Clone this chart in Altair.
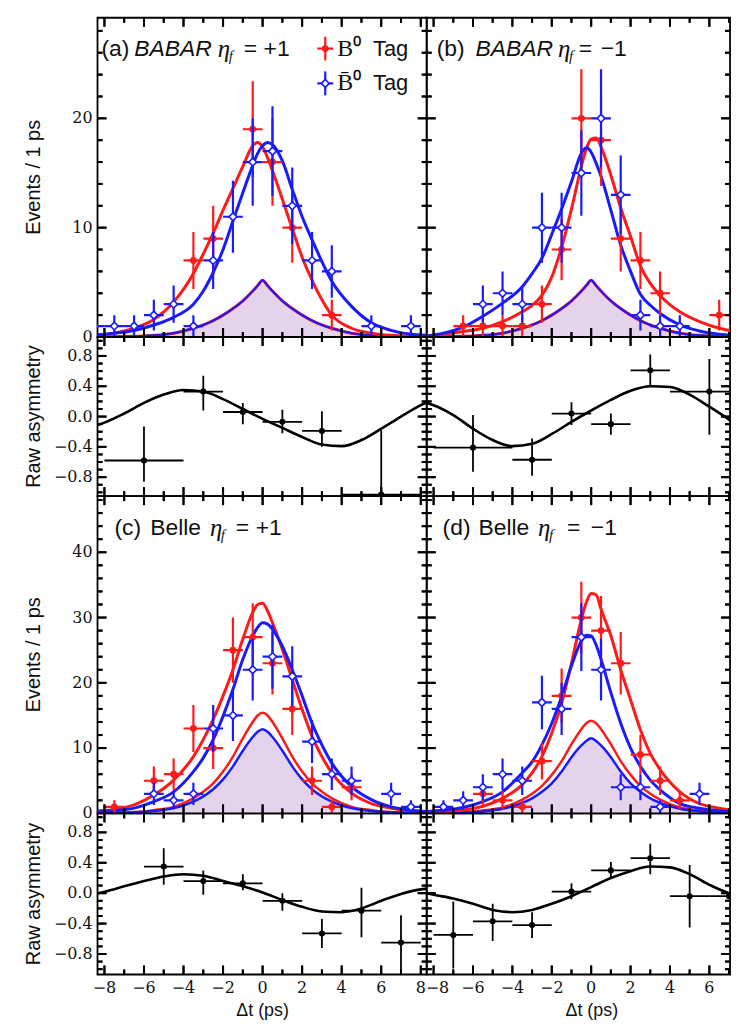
import altair as alt
import pandas as pd

RED = "#ff1a1a"
BLUE = "#1a1aff"
HATCH = "#e4d3ea"
INK = "#111111"

# ---------------- fit curves (events / 1 ps) ----------------
GX = [-8.35, -7.5, -6.5, -5.5, -4.5, -3.5, -3, -2.5, -2, -1.5, -1, -0.5, -0.25, 0,
      0.25, 0.5, 1, 1.5, 2, 2.5, 3, 3.5, 4.5, 5.5, 6.5, 7.5, 8.3]

A_RED_FIT = [0.15, 0.35, 0.8, 1.6, 3.2, 5.8, 7.6, 9.5, 11.6, 13.6, 15.6, 17.5, 17.8, 17.4,
             16.4, 15.2, 12.6, 9.9, 7.3, 5.2, 3.4, 2.0, 0.8, 0.35, 0.15, 0.08, 0.05]
A_BLUE_FIT = [0.2, 0.35, 0.6, 1.1, 1.8, 3.0, 4.2, 5.9, 8.0, 10.6, 13.2, 15.7, 16.8, 17.5,
              17.8, 17.6, 16.1, 13.5, 11.0, 8.9, 6.9, 5.1, 2.8, 1.3, 0.6, 0.25, 0.15]
A_BG_FIT = [0.02, 0.03, 0.07, 0.15, 0.35, 0.8, 1.1, 1.5, 2.0, 2.6, 3.3, 4.2, 4.7, 5.2,
            4.7, 4.2, 3.3, 2.6, 2.0, 1.5, 1.1, 0.8, 0.35, 0.15, 0.07, 0.03, 0.02]

B_RED_FIT = [0.1, 0.25, 0.5, 0.8, 1.4, 2.3, 2.9, 3.8, 5.5, 8.2, 11.7, 15.6, 17.2, 18.1,
             18.2, 17.4, 14.8, 11.8, 9.2, 6.5, 4.9, 3.8, 2.3, 1.4, 0.8, 0.45, 0.3]
B_BLUE_FIT = [0.1, 0.35, 0.9, 1.9, 3.1, 4.6, 5.8, 7.2, 9.4, 11.7, 14.2, 16.8, 17.3, 16.9,
              15.9, 14.7, 11.6, 8.4, 6.0, 3.9, 2.9, 2.15, 1.1, 0.55, 0.25, 0.12, 0.08]
B_BG_FIT = [0.02, 0.03, 0.07, 0.15, 0.35, 0.8, 1.1, 1.5, 2.0, 2.6, 3.3, 4.2, 4.7, 5.2,
            4.7, 4.2, 3.3, 2.6, 2.0, 1.5, 1.1, 0.8, 0.35, 0.15, 0.07, 0.03, 0.02]

C_RED_FIT = [0.4, 0.6, 1.3, 2.8, 5.1, 8.7, 11.3, 14.4, 18.0, 22.0, 26.7, 30.8, 32.0, 32.2,
             31.0, 29.2, 25.1, 20.5, 15.9, 11.8, 8.7, 6.2, 3.1, 1.5, 0.8, 0.4, 0.25]
C_BLUE_FIT = [0.25, 0.4, 0.8, 1.8, 3.3, 6.4, 8.5, 11.3, 14.9, 19.0, 23.6, 27.2, 28.5, 29.2,
              29.0, 28.2, 25.6, 22.0, 18.0, 13.8, 10.5, 7.7, 4.1, 2.1, 1.0, 0.5, 0.3]
C_BG_RED_FIT = [0.05, 0.1, 0.2, 0.5, 1.0, 2.3, 3.3, 4.6, 6.4, 8.7, 11.5, 14.0, 15.0, 15.4,
                15.0, 14.0, 11.5, 8.7, 6.4, 4.6, 3.3, 2.3, 1.0, 0.5, 0.2, 0.1, 0.05]
C_BG_BLUE_FIT = [0.04, 0.08, 0.15, 0.35, 0.8, 1.8, 2.6, 3.7, 5.2, 7.2, 9.6, 11.7, 12.5, 12.9,
                 12.5, 11.7, 9.6, 7.2, 5.2, 3.7, 2.6, 1.8, 0.8, 0.35, 0.15, 0.08, 0.04]

D_RED_FIT = [0.2, 0.25, 0.5, 1.1, 2.3, 4.4, 6.2, 8.7, 12.3, 16.9, 23.0, 29.7, 32.3, 33.7,
             33.5, 31.3, 27.2, 22.0, 17.4, 12.8, 9.2, 6.7, 3.3, 1.5, 0.8, 0.4, 0.25]
D_BLUE_FIT = [0.3, 0.5, 0.9, 1.8, 3.3, 6.2, 7.9, 10.5, 13.8, 17.9, 22.6, 26.4, 27.3, 27.2,
              25.8, 23.6, 18.5, 13.8, 10.0, 7.2, 5.1, 3.6, 1.5, 0.8, 0.4, 0.2, 0.15]
D_BG_RED_FIT = [0.05, 0.1, 0.2, 0.45, 0.9, 2.1, 3.0, 4.2, 5.9, 8.0, 10.6, 12.9, 13.8, 14.2,
                13.8, 12.9, 10.6, 8.0, 5.9, 4.2, 3.0, 2.1, 0.9, 0.45, 0.2, 0.1, 0.05]
D_BG_BLUE_FIT = [0.04, 0.08, 0.13, 0.3, 0.7, 1.6, 2.3, 3.3, 4.6, 6.4, 8.6, 10.4, 11.1, 11.5,
                 11.1, 10.4, 8.6, 6.4, 4.6, 3.3, 2.3, 1.6, 0.7, 0.3, 0.13, 0.08, 0.04]

# ---------------- binned events ----------------
A_RED_X = [-3.5, -2.5, -0.5, 0.5, 1.5, 3.5]
A_RED_Y = [7, 9, 19, 16, 10, 2]
A_RED_E = [2.6, 3.0, 4.4, 4.0, 3.2, 1.4]
A_BLUE_X = [-8.5, -7.5, -6.5, -5.5, -4.5, -3.5, -2.5, -1.5, -0.5, 0.5, 1.5, 2.5, 3.5, 5.5, 7.5]
A_BLUE_Y = [1, 1, 1, 2, 3, 1, 7, 11, 16, 17, 12, 7, 6, 1, 1]
A_BLUE_E = [1, 1, 1, 1.4, 1.7, 1, 2.6, 3.3, 4.0, 4.1, 3.5, 2.6, 2.4, 1, 1]

B_RED_X = [-6.5, -5.5, -4.5, -3.5, -2.5, -1.5, -0.5, 0.5, 1.5, 2.5, 3.5, 6.5, 7.5]
B_RED_Y = [1, 1, 1, 1, 3, 8, 20, 18, 9, 7, 4, 2, 1]
B_RED_E = [1, 1, 1, 1, 1.7, 2.8, 4.5, 4.2, 3.0, 2.6, 2.0, 1.4, 1]
B_BLUE_X = [-5.5, -4.5, -3.5, -2.5, -1.5, -0.5, 0.5, 1.5, 2.5, 3.5, 4.5]
B_BLUE_Y = [3, 4, 3, 10, 10, 15, 20, 13, 2, 1, 1]
B_BLUE_E = [1.7, 2.0, 1.7, 3.2, 3.2, 3.9, 4.5, 3.6, 1.4, 1, 1]

C_RED_X = [-7.5, -5.5, -4.5, -3.5, -2.5, -1.5, -0.5, 0.5, 1.5, 2.5, 3.5, 4.5]
C_RED_Y = [1, 5, 6, 13, 10, 25, 27, 23, 16, 5, 1, 4]
C_RED_E = [1, 2.2, 2.4, 3.6, 3.2, 5.0, 5.2, 4.8, 4.0, 2.2, 1, 2.0]
C_BLUE_X = [-5.5, -4.5, -3.5, -2.5, -1.5, -0.5, 0.5, 1.5, 2.5, 3.5, 4.5, 6.5, 7.5]
C_BLUE_Y = [3, 2, 3, 13, 15, 22, 24, 21, 11, 6, 5, 3, 1]
C_BLUE_E = [1.7, 1.4, 1.7, 3.6, 3.9, 4.7, 4.9, 4.6, 3.3, 2.4, 2.2, 1.7, 1]

D_RED_X = [-5.5, -4.5, -3.5, -2.5, -1.5, -0.5, 0.5, 1.5, 2.5, 3.5, 4.5]
D_RED_Y = [3, 2, 1, 8, 18, 30, 28, 23, 9, 5, 2]
D_RED_E = [1.7, 1.4, 1, 2.8, 4.2, 5.5, 5.3, 4.8, 3.0, 2.2, 1.4]
D_BLUE_X = [-7.5, -6.5, -5.5, -4.5, -3.5, -2.5, -1.5, -0.5, 0.5, 1.5, 2.5, 3.5, 5.5]
D_BLUE_Y = [1, 2, 4, 6, 5, 17, 16, 27, 22, 4, 4, 1, 3]
D_BLUE_E = [1, 1.4, 2.0, 2.4, 2.2, 4.1, 4.0, 5.2, 4.7, 2.0, 2.0, 1, 1.7]

# ---------------- raw asymmetry ----------------
AX_L = [-8.35, -8, -7, -6, -5, -4, -3, -2, -1, 0, 1, 2, 3, 4, 5, 6, 7, 8, 8.3]
AX_R = [-8.35, -8, -7, -6, -5, -4, -3, -2, -1, 0, 1, 2, 3, 4, 5, 6, 7, 7.7]
A_ASYM_FIT = [-0.11, -0.08, 0.04, 0.18, 0.29, 0.35, 0.33, 0.23, 0.10, -0.03, -0.15, -0.27,
              -0.37, -0.39, -0.31, -0.16, 0.0, 0.15, 0.19]
B_ASYM_FIT = [0.18, 0.15, 0.02, -0.16, -0.31, -0.39, -0.36, -0.23, -0.07, 0.08, 0.22, 0.34,
              0.40, 0.39, 0.29, 0.13, -0.04, -0.17]
C_ASYM_FIT = [0.0, 0.02, 0.09, 0.16, 0.22, 0.25, 0.23, 0.16, 0.09, 0.01, -0.09, -0.18,
              -0.24, -0.25, -0.20, -0.10, -0.01, 0.05, 0.06]
D_ASYM_FIT = [0.0, -0.02, -0.07, -0.14, -0.22, -0.25, -0.22, -0.14, -0.04, 0.08, 0.20, 0.29,
              0.35, 0.34, 0.25, 0.11, 0.0, -0.04]

A_AS_X = [-6, -3, -1, 1, 3, 6]
A_AS_W = [2, 1, 1, 1, 1, 2]
A_AS_Y = [-0.58, 0.33, 0.06, -0.07, -0.19, -1.03]
A_AS_LO = [-0.86, 0.08, -0.10, -0.22, -0.40, -1.30]
A_AS_HI = [-0.13, 0.54, 0.18, 0.09, 0.07, -0.18]

B_AS_X = [-6, -3, -1, 1, 3, 6]
B_AS_W = [2, 1, 1, 1, 1, 2]
B_AS_Y = [-0.41, -0.57, 0.04, -0.10, 0.61, 0.33]
B_AS_LO = [-0.73, -0.78, -0.11, -0.24, 0.40, -0.24]
B_AS_HI = [0.02, -0.29, 0.19, 0.04, 0.82, 0.76]

C_AS_X = [-5, -3, -1, 1, 3, 5, 7]
C_AS_W = [1, 1, 1, 1, 1, 1, 1]
C_AS_Y = [0.35, 0.16, 0.13, -0.10, -0.53, -0.23, -0.65]
C_AS_LO = [0.11, -0.02, 0.04, -0.23, -0.72, -0.58, -1.13]
C_AS_HI = [0.59, 0.30, 0.25, 0.0, -0.34, 0.07, -0.29]

D_AS_X = [-7, -5, -3, -1, 1, 3, 5, 7]
D_AS_W = [1, 1, 1, 1, 1, 1, 1, 1]
D_AS_Y = [-0.55, -0.37, -0.42, 0.02, 0.30, 0.46, -0.04, -0.04]
D_AS_LO = [-0.99, -0.63, -0.59, -0.08, 0.20, 0.25, -0.45, -0.07]
D_AS_HI = [-0.11, -0.14, -0.25, 0.13, 0.41, 0.65, 0.37, -0.01]

# ---------------- ticks and tick labels ----------------
XMAJ = [-8, -6, -4, -2, 0, 2, 4, 6, 8]
XMAJ_LAB = ["−8", "−6", "−4", "−2", "0", "2", "4", "6", "8"]
XMIN = [-7, -5, -3, -1, 1, 3, 5, 7]
YMAJ_EV_A = [0, 10, 20]
YLAB_EV_A = ["0", "10", "20"]
YMIN_EV_A = [2, 4, 6, 8, 12, 14, 16, 18, 22, 24, 26, 28]
YMAJ_EV_C = [0, 10, 20, 30, 40]
YLAB_EV_C = ["0", "10", "20", "30", "40"]
YMIN_EV_C = [2, 4, 6, 8, 12, 14, 16, 18, 22, 24, 26, 28, 32, 34, 36, 38, 42, 44, 46, 48]
YMAJ_AS = [-0.8, -0.4, 0.0, 0.4, 0.8]
YLAB_AS = ["−0.8", "−0.4", "0.0", "0.4", "0.8"]
YMIN_AS = [-1.0, -0.9, -0.7, -0.6, -0.5, -0.3, -0.2, -0.1, 0.1, 0.2, 0.3, 0.5, 0.6, 0.7,
           0.9, 1.0]

XDOM_L = [-8.35, 8.3]
XDOM_R = [-8.35, 7.05]
W_L, W_R = 331, 305
H_EV1, H_AS1, H_EV2, H_AS2 = 321, 160, 319, 162
YDOM_EV1 = [0, 29.2]
YDOM_EV2 = [0, 48.6]
YDOM_AS1 = [-1.05, 1.05]
YDOM_AS2 = [-1.07, 1.05]

ONE = pd.DataFrame({"k": [0]})
TICK_MAJ, TICK_MIN = 9, 5
TICK_W = 2
LABEL_FONT = "DejaVu Serif"
TITLE_FONT = "Liberation Sans"


def scales(xdom, ydom):
    return (alt.Scale(domain=xdom, nice=False, zero=False),
            alt.Scale(domain=ydom, nice=False, zero=False))


def tick_layers(xdom, ydom, w, h, ymaj, ymin):
    """Inward-pointing ticks on all four sides, placed through the panel's scales."""
    xsc, ysc = scales(xdom, ydom)
    upx = (ydom[1] - ydom[0]) / h
    xpx = (xdom[1] - xdom[0]) / w
    xmaj = [v for v in XMAJ if xdom[0] < v < xdom[1]]
    xmin = [v for v in XMIN if xdom[0] < v < xdom[1]]
    out = []
    for vals, ln in ((xmaj, TICK_MAJ), (xmin, TICK_MIN)):
        for base, sgn, ypos in ((ydom[0], 1, h - ln / 2), (ydom[1], -1, ln / 2)):
            df = pd.DataFrame({"t": vals})
            df["a"] = base
            df["b"] = base + sgn * ln * upx
            out.append(alt.Chart(df).mark_rule(color="#000000", strokeWidth=TICK_W).encode(
                x=alt.X("t:Q", scale=xsc, axis=None),
                y=alt.Y("a:Q", scale=ysc, axis=None), y2="b:Q"))
            out.append(alt.Chart(df).mark_tick(color="#000000", thickness=TICK_W, size=ln,
                                               opacity=1).encode(
                x=alt.X("t:Q", scale=xsc, axis=None), y=alt.value(ypos)))
    for vals, ln in ((ymaj, TICK_MAJ), (ymin, TICK_MIN)):
        vv = [v for v in vals if ydom[0] < v < ydom[1]]
        for base, sgn, xpos in ((xdom[0], 1, ln / 2), (xdom[1], -1, w - ln / 2)):
            df = pd.DataFrame({"t": vv})
            df["a"] = base
            df["b"] = base + sgn * ln * xpx
            out.append(alt.Chart(df).mark_rule(color="#000000", strokeWidth=TICK_W).encode(
                y=alt.Y("t:Q", scale=ysc, axis=None),
                x=alt.X("a:Q", scale=xsc, axis=None), x2="b:Q"))
            out.append(alt.Chart(df).mark_tick(color="#000000", thickness=TICK_W, size=ln,
                                               opacity=1).encode(
                y=alt.Y("t:Q", scale=ysc, axis=None), x=alt.value(xpos)))
    return out


def ylabel_layers(ydom, h, vals, labs, title):
    ysc = alt.Scale(domain=ydom, nice=False, zero=False)
    df = pd.DataFrame({"v": vals, "lab": labs})
    labels = alt.Chart(df).mark_text(font=LABEL_FONT, fontSize=16, color=INK, align="right",
                                     baseline="middle").encode(
        y=alt.Y("v:Q", scale=ysc, axis=None), x=alt.value(-5), text="lab:N")
    ttl = alt.Chart(ONE).mark_text(text=title, font=TITLE_FONT, fontSize=20, color=INK,
                                   angle=270, align="center", baseline="middle").encode(
        x=alt.value(-64), y=alt.value(h / 2))
    return [labels, ttl]


def xlabel_layers(xdom, h, right):
    xsc = alt.Scale(domain=xdom, nice=False, zero=False)
    pairs = [(v, s) for v, s in zip(XMAJ, XMAJ_LAB) if xdom[0] < v < xdom[1]]
    out = []
    if right:
        first = pd.DataFrame({"v": [pairs[0][0]], "lab": [pairs[0][1]]})
        out.append(alt.Chart(first).mark_text(font=LABEL_FONT, fontSize=16, color=INK,
                                              align="left", baseline="middle", dx=-8).encode(
            x=alt.X("v:Q", scale=xsc, axis=None), y=alt.value(h + 14), text="lab:N"))
        pairs = pairs[1:]
    df = pd.DataFrame({"v": [p[0] for p in pairs], "lab": [p[1] for p in pairs]})
    out.append(alt.Chart(df).mark_text(font=LABEL_FONT, fontSize=16, color=INK,
                                       align="center", baseline="middle").encode(
        x=alt.X("v:Q", scale=xsc, axis=None), y=alt.value(h + 14), text="lab:N"))
    out.append(alt.Chart(ONE).mark_text(text="Δt (ps)", font=TITLE_FONT, fontSize=18,
                                        color=INK, align="center",
                                        baseline="middle").encode(
        x=alt.value(166), y=alt.value(h + 37)))
    return out


def fit_line(xs, ys, color, width, xsc, ysc):
    df = pd.DataFrame({"x": xs, "y": ys})
    return alt.Chart(df).mark_line(color=color, strokeWidth=width, interpolate="monotone",
                                   clip=True).encode(
        x=alt.X("x:Q", scale=xsc, axis=None), y=alt.Y("y:Q", scale=ysc, axis=None))


def fit_area(xs, ys, xsc, ysc):
    df = pd.DataFrame({"x": xs, "y": ys})
    return alt.Chart(df).mark_area(color=HATCH, opacity=1, interpolate="monotone",
                                   clip=True).encode(
        x=alt.X("x:Q", scale=xsc, axis=None), y=alt.Y("y:Q", scale=ysc, axis=None))


def points(xs, ys, lo, hi, half, xsc, ysc, color, kind, ew):
    df = pd.DataFrame({"x": xs, "y": ys, "lo": lo, "hi": hi})
    df["xl"] = [a - b for a, b in zip(xs, half)]
    df["xh"] = [a + b for a, b in zip(xs, half)]
    base = alt.Chart(df)
    v = base.mark_rule(color=color, strokeWidth=ew, clip=True).encode(
        x=alt.X("x:Q", scale=xsc, axis=None),
        y=alt.Y("lo:Q", scale=ysc, axis=None), y2="hi:Q")
    hz = base.mark_rule(color=color, strokeWidth=ew, clip=True).encode(
        x=alt.X("xl:Q", scale=xsc, axis=None), x2="xh:Q",
        y=alt.Y("y:Q", scale=ysc, axis=None))
    if kind == "circle":
        m = base.mark_point(shape="circle", filled=True, color=color, size=48, opacity=1,
                            clip=True)
    elif kind == "dot":
        m = base.mark_point(shape="circle", filled=True, color=color, size=38, opacity=1,
                            clip=True)
    else:
        m = base.mark_point(shape="diamond", filled=True, fill="white", stroke=color,
                            strokeWidth=1.6, size=62, opacity=1, clip=True)
    m = m.encode(x=alt.X("x:Q", scale=xsc, axis=None), y=alt.Y("y:Q", scale=ysc, axis=None))
    return [v, hz, m]


def ev_points(xs, ys, es, xsc, ysc, color, kind):
    lo = [a - b for a, b in zip(ys, es)]
    hi = [a + b for a, b in zip(ys, es)]
    return points(xs, ys, lo, hi, [0.5] * len(xs), xsc, ysc, color, kind, 2.2)


def txt(s, x, y, size=23, font="Liberation Sans", style="normal", color=INK):
    return alt.Chart(ONE).mark_text(text=s, font=font, fontSize=size, fontStyle=style,
                                    align="left", baseline="middle", color=color).encode(
        x=alt.value(x), y=alt.value(y))


def label(tag, name, italic, sign, xs, y):
    x0, x1, x2, x3, x4 = xs
    return [txt(tag, x0, y),
            txt(name, x1, y, style="italic" if italic else "normal"),
            txt("η", x2, y, font="Liberation Serif", style="italic", size=25),
            txt("f", x2 + 11, y + 7, font="Liberation Serif", style="italic", size=15),
            txt("=", x3, y),
            txt(sign, x4, y)]


def legend_item(x, y, color, kind, label_b):
    v = alt.Chart(ONE).mark_rule(color=color, strokeWidth=2.2).encode(
        x=alt.value(x), y=alt.value(y - 12), y2=alt.value(y + 12))
    hz = alt.Chart(ONE).mark_rule(color=color, strokeWidth=2.2).encode(
        x=alt.value(x - 8), x2=alt.value(x + 8), y=alt.value(y))
    if kind == "circle":
        m = alt.Chart(ONE).mark_point(shape="circle", filled=True, color=color, size=48,
                                      opacity=1)
    else:
        m = alt.Chart(ONE).mark_point(shape="diamond", filled=True, fill="white",
                                      stroke=color, strokeWidth=1.6, size=62, opacity=1)
    m = m.encode(x=alt.value(x), y=alt.value(y))
    return [v, hz, m,
            txt(label_b, x + 12, y, font="Liberation Serif", size=24),
            txt("Tag", x + 48, y, size=22)]


def spacer():
    # invisible anchor that reserves the left margin used by the axis titles
    return alt.Chart(ONE).mark_point(opacity=0, size=1).encode(
        x=alt.value(-83), y=alt.value(0))


def events_panel(w, xdom, h, ydom, ymaj, ylab, ymin, left, fits, bgs, red, blue, extra):
    xsc, ysc = scales(xdom, ydom)
    layers = [fit_area(GX, bgs[-1][1], xsc, ysc)]
    for color, ys, wdt in bgs:
        layers.append(fit_line(GX, ys, color, wdt, xsc, ysc))
    layers.append(fit_line(GX, fits[0], RED, 3, xsc, ysc))
    layers.append(fit_line(GX, fits[1], BLUE, 3, xsc, ysc))
    layers += ev_points(*red, xsc, ysc, RED, "circle")
    layers += ev_points(*blue, xsc, ysc, BLUE, "diamond")
    layers += extra
    if left:
        layers += ylabel_layers(ydom, h, ymaj, ylab, "Events / 1 ps")
        layers.append(spacer())
    layers += tick_layers(xdom, ydom, w, h, ymaj, ymin)
    return alt.layer(*layers).properties(width=w, height=h)


def asym_panel(w, xdom, h, ydom, left, bottom, fx, fy, xs, half, ys, lo, hi):
    xsc, ysc = scales(xdom, ydom)
    layers = [fit_line(fx, fy, "black", 2.6, xsc, ysc)]
    layers += points(xs, ys, lo, hi, half, xsc, ysc, "black", "dot", 1.8)
    if left:
        layers += ylabel_layers(ydom, h, YMAJ_AS, YLAB_AS, "Raw asymmetry")
    if bottom:
        layers += xlabel_layers(xdom, h, not left)
    layers += tick_layers(xdom, ydom, w, h, YMAJ_AS, YMIN_AS)
    return alt.layer(*layers).properties(width=w, height=h)


pa = events_panel(
    W_L, XDOM_L, H_EV1, YDOM_EV1, YMAJ_EV_A, YLAB_EV_A, YMIN_EV_A, True,
    (A_RED_FIT, A_BLUE_FIT), [(RED, A_BG_FIT, 3), (BLUE, A_BG_FIT, 2)],
    (A_RED_X, A_RED_Y, A_RED_E), (A_BLUE_X, A_BLUE_Y, A_BLUE_E),
    label("(a)", "BABAR", True, "+1", (4, 37, 121, 147, 167), 31)
    + legend_item(229, 31, RED, "circle", "B⁰")
    + legend_item(229, 66, BLUE, "diamond", "B̄⁰"))

pb = events_panel(
    W_R, XDOM_R, H_EV1, YDOM_EV1, YMAJ_EV_A, YLAB_EV_A, YMIN_EV_A, False,
    (B_RED_FIT, B_BLUE_FIT), [(RED, B_BG_FIT, 3), (BLUE, B_BG_FIT, 2)],
    (B_RED_X, B_RED_Y, B_RED_E), (B_BLUE_X, B_BLUE_Y, B_BLUE_E),
    label("(b)", "BABAR", True, "−1", (10, 49, 132, 153, 175), 31))

pc = events_panel(
    W_L, XDOM_L, H_EV2, YDOM_EV2, YMAJ_EV_C, YLAB_EV_C, YMIN_EV_C, True,
    (C_RED_FIT, C_BLUE_FIT), [(RED, C_BG_RED_FIT, 2.5), (BLUE, C_BG_BLUE_FIT, 2.5)],
    (C_RED_X, C_RED_Y, C_RED_E), (C_BLUE_X, C_BLUE_Y, C_BLUE_E),
    label("(c)", "Belle", False, "+1", (17, 53, 113, 139, 159), 32))

pd_ = events_panel(
    W_R, XDOM_R, H_EV2, YDOM_EV2, YMAJ_EV_C, YLAB_EV_C, YMIN_EV_C, False,
    (D_RED_FIT, D_BLUE_FIT), [(RED, D_BG_RED_FIT, 2.5), (BLUE, D_BG_BLUE_FIT, 2.5)],
    (D_RED_X, D_RED_Y, D_RED_E), (D_BLUE_X, D_BLUE_Y, D_BLUE_E),
    label("(d)", "Belle", False, "−1", (16, 52, 112, 141, 165), 32))

qa = asym_panel(W_L, XDOM_L, H_AS1, YDOM_AS1, True, False, AX_L, A_ASYM_FIT,
                A_AS_X, A_AS_W, A_AS_Y, A_AS_LO, A_AS_HI)
qb = asym_panel(W_R, XDOM_R, H_AS1, YDOM_AS1, False, False, AX_R, B_ASYM_FIT,
                B_AS_X, B_AS_W, B_AS_Y, B_AS_LO, B_AS_HI)
qc = asym_panel(W_L, XDOM_L, H_AS2, YDOM_AS2, True, True, AX_L, C_ASYM_FIT,
                C_AS_X, C_AS_W, C_AS_Y, C_AS_LO, C_AS_HI)
qd = asym_panel(W_R, XDOM_R, H_AS2, YDOM_AS2, False, True, AX_R, D_ASYM_FIT,
                D_AS_X, D_AS_W, D_AS_Y, D_AS_LO, D_AS_HI)

chart = alt.concat(pa, pb, qa, qb, pc, pd_, qc, qd, columns=2, spacing=0,
                   bounds="flush").configure_view(stroke="black", strokeWidth=1.8)

chart.save("out.html", embed_options={"renderer": "svg", "actions": False})
